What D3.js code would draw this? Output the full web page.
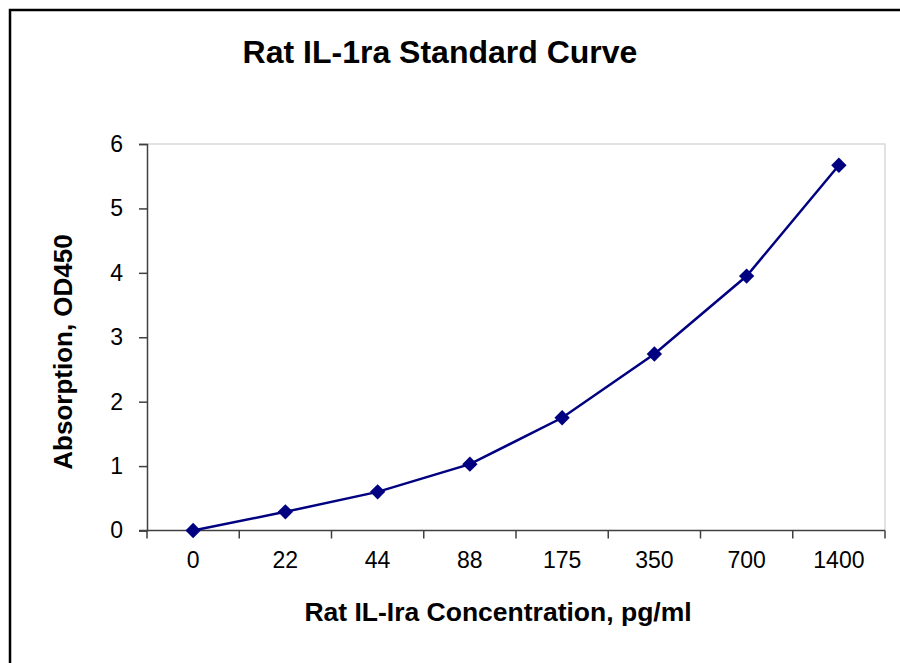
<!DOCTYPE html>
<html>
<head>
<meta charset="utf-8">
<script src="https://cdn.jsdelivr.net/npm/d3@7"></script>
<style>
  body { margin: 0; background: #fff; }
  svg { display: block; font-family: 'Liberation Sans', Arial, sans-serif; }
</style>
</head>
<body>
<svg id="chart" width="900" height="663"></svg>
<script>
// standard curve data
var concentrations = ['0', '22', '44', '88', '175', '350', '700', '1400']
var absorbance = [0.0, 0.29, 0.6, 1.03, 1.75, 2.74, 3.95, 5.67]
var yTicks = [0, 1, 2, 3, 4, 5, 6]

var svg = d3.select('#chart')
var plot = { left: 147, right: 885, top: 144, bottom: 530.5 }
var lineColor = '#000080'
var axisColor = '#404040'
var tickFont = '23px'

// outer chart frame (cut off at the right and bottom)
svg.append('rect')
  .attr('x', 10).attr('y', 10)
  .attr('width', 1000).attr('height', 1000)
  .attr('fill', 'none')
  .attr('stroke', '#000')
  .attr('stroke-width', 2.5)

var x = d3.scaleBand().domain(concentrations).range([plot.left, plot.right]).padding(0)
var y = d3.scaleLinear().domain([0, 6]).range([plot.bottom, plot.top])

// plot area border (top / right)
svg.append('path')
  .attr('d', 'M' + plot.left + ',' + plot.top + 'H' + plot.right + 'V' + plot.bottom)
  .attr('fill', 'none')
  .attr('stroke', '#d9d9d9')
  .attr('stroke-width', 1.5)

// y axis
var yAxis = svg.append('g')
  .attr('transform', 'translate(' + plot.left + ',0)')
  .call(d3.axisLeft(y).tickValues(yTicks).tickSize(8).tickPadding(16).tickFormat(d3.format('d')))
yAxis.select('.domain').attr('stroke', axisColor).attr('stroke-width', 1.5)
yAxis.selectAll('.tick line').attr('stroke', axisColor).attr('stroke-width', 1.5)
yAxis.selectAll('.tick text')
  .attr('fill', '#000')
  .style('font-size', tickFont)
  .style('font-family', "'Liberation Sans', Arial, sans-serif")

// x axis: labels centred in each category, ticks on category boundaries
var xAxis = svg.append('g')
  .attr('transform', 'translate(0,' + plot.bottom + ')')
  .call(d3.axisBottom(x).tickSize(0).tickPadding(21))
xAxis.select('.domain').remove()
xAxis.selectAll('.tick text')
  .attr('fill', '#000')
  .style('font-size', tickFont)
  .style('font-family', "'Liberation Sans', Arial, sans-serif")

var bounds = concentrations.map(function (c) { return x(c) }).concat([plot.right])
svg.append('line')
  .attr('x1', plot.left - 8).attr('x2', plot.right)
  .attr('y1', plot.bottom).attr('y2', plot.bottom)
  .attr('stroke', axisColor).attr('stroke-width', 1.5)
svg.selectAll('.xtick')
  .data(bounds)
  .join('line')
  .attr('class', 'xtick')
  .attr('x1', function (d) { return d }).attr('x2', function (d) { return d })
  .attr('y1', plot.bottom).attr('y2', plot.bottom + 8)
  .attr('stroke', axisColor).attr('stroke-width', 1.5)

// the curve
var pts = concentrations.map(function (c, i) { return [x(c) + x.bandwidth() / 2, y(absorbance[i])] })
svg.append('path')
  .datum(pts)
  .attr('d', d3.line())
  .attr('fill', 'none')
  .attr('stroke', lineColor)
  .attr('stroke-width', 2.5)

svg.selectAll('.marker')
  .data(pts)
  .join('path')
  .attr('class', 'marker')
  .attr('d', d3.symbol().type(d3.symbolDiamond2).size(150))
  .attr('transform', function (d) { return 'translate(' + d[0] + ',' + d[1] + ')' })
  .attr('fill', lineColor)

// titles
svg.append('text')
  .attr('x', 440).attr('y', 63)
  .attr('text-anchor', 'middle')
  .style('font-size', '32px').style('font-weight', 'bold')
  .text('Rat IL-1ra Standard Curve')

svg.append('text')
  .attr('x', 498).attr('y', 621)
  .attr('text-anchor', 'middle')
  .style('font-size', '26.5px').style('font-weight', 'bold')
  .text('Rat IL-Ira Concentration, pg/ml')

svg.append('text')
  .attr('transform', 'translate(72,352) rotate(-90)')
  .attr('text-anchor', 'middle')
  .style('font-size', '26px').style('font-weight', 'bold')
  .text('Absorption, OD450')
</script>
</body>
</html>
